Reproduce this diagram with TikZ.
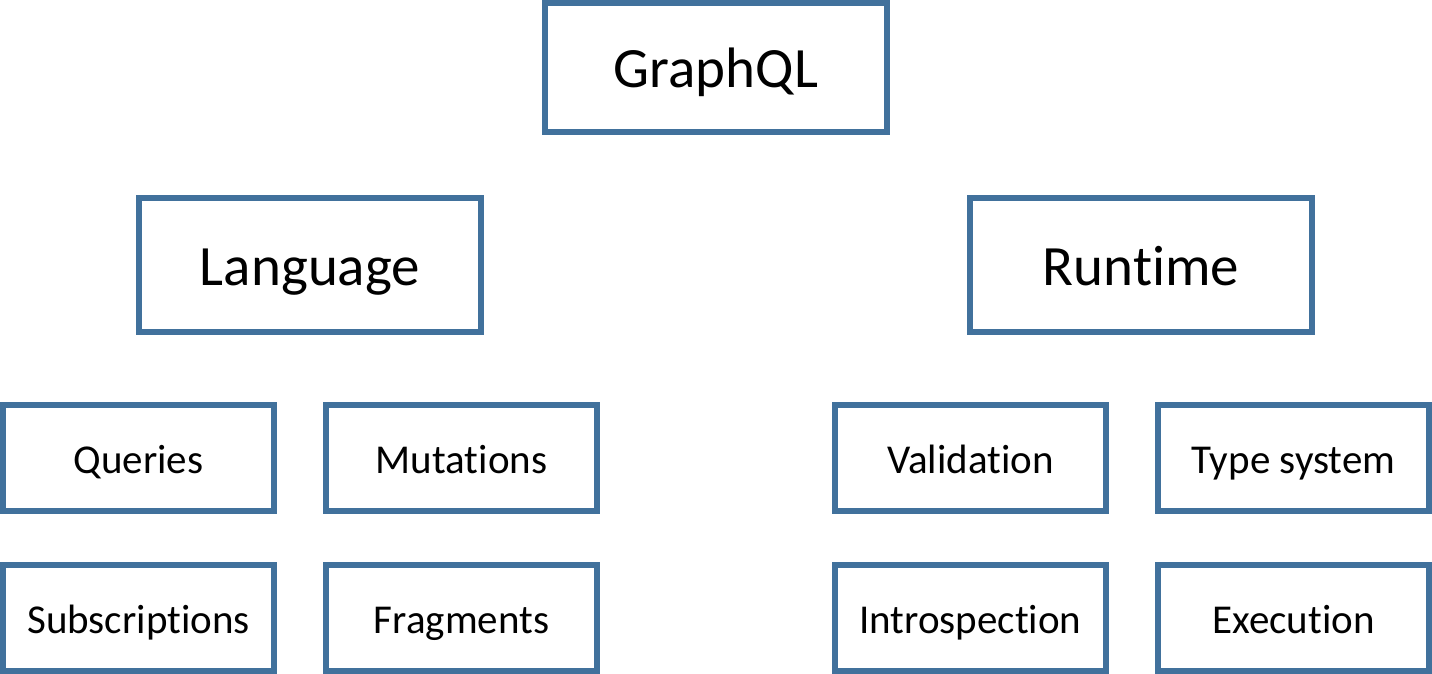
\documentclass[tikz,border=0pt]{standalone}
\usepackage{fontspec}
\setmainfont{Carlito}[Ligatures={NoCommon}]
\definecolor{boxblue}{RGB}{65,113,156}
\begin{document}
\begin{tikzpicture}[x=1pt,y=-1pt,
  box/.style={draw=boxblue, line width=5.5pt, fill=white, inner sep=0pt, rectangle, text=black},
  smallbox/.style={box, minimum width=271pt, minimum height=106pt, font=\fontsize{41}{49}\selectfont, text height=30pt, text depth=0pt},
  bigbox/.style={box, minimum width=342pt, minimum height=134pt, font=\fontsize{57}{68}\selectfont, text height=41pt, text depth=0pt}]
\useasboundingbox (0,0) rectangle (1432,674);
\node[bigbox, minimum height=129pt] (graphql) at (716,67.5) {GraphQL};
\node[bigbox] (language) at (310,265) {Language};
\node[bigbox] (runtime) at (1141,265) {Runtime};
\node[smallbox] (queries) at (138.5,458) {Queries};
\node[smallbox] (mutations) at (461.5,458) {Mutations};
\node[smallbox] (validation) at (970.5,458) {Validation};
\node[smallbox] (typesystem) at (1293.5,458) {Type system};
\node[smallbox] (subscriptions) at (138.5,618) {Subscriptions};
\node[smallbox] (fragments) at (461.5,618) {Fragments};
\node[smallbox] (introspection) at (970.5,618) {Introspection};
\node[smallbox] (execution) at (1293.5,618) {Execution};
\end{tikzpicture}
\end{document}
